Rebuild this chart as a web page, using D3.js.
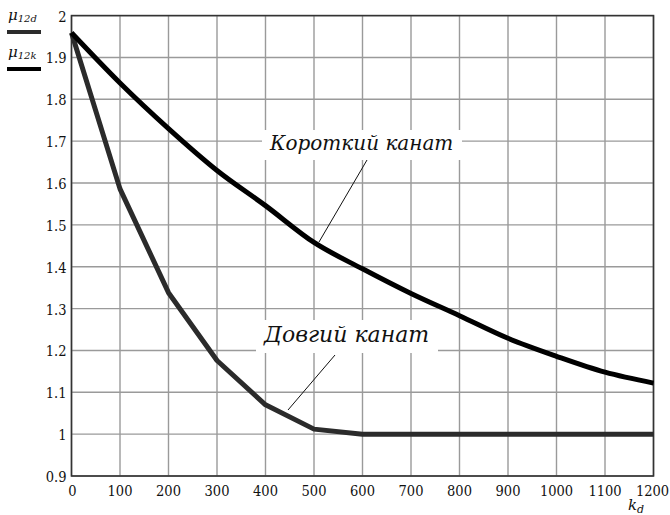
<!DOCTYPE html>
<html>
<head>
<meta charset="utf-8">
<script src="https://cdn.jsdelivr.net/npm/d3@7"></script>
<style>
  html, body { margin: 0; padding: 0; background: #fff; }
  svg { display: block; }
</style>
</head>
<body>
<svg id="chart" width="670" height="515"></svg>
<script>
// k_d values, read every 100 along the x axis
const kd = [0, 100, 200, 300, 400, 500, 600, 700, 800, 900, 1000, 1100, 1200];
// short rope, mu12k
const shortRope = [1.959, 1.839, 1.730, 1.630, 1.546, 1.458, 1.395, 1.336, 1.283, 1.229, 1.186, 1.148, 1.122];
// long rope, mu12d
const longRope = [1.959, 1.586, 1.338, 1.176, 1.070, 1.012, 1.000, 1.000, 1.000, 1.000, 1.000, 1.000, 1.000];
const xTicks = [0, 100, 200, 300, 400, 500, 600, 700, 800, 900, 1000, 1100, 1200];
const yTicks = [0.9, 1, 1.1, 1.2, 1.3, 1.4, 1.5, 1.6, 1.7, 1.8, 1.9, 2];

const svg = d3.select("#chart");
const margin = { top: 15.6, right: 16.5, bottom: 39, left: 71.5 };
const width = 670;
const height = 515;
const serif = "'DejaVu Serif', serif";
const narrow = "'DejaVu Serif Condensed', 'DejaVu Serif', serif";

const x = d3.scaleLinear().domain([0, 1200]).range([margin.left, width - margin.right]);
const y = d3.scaleLinear().domain([0.9, 2]).range([height - margin.bottom, margin.top]);

// grid
svg.append("g")
  .selectAll("line")
  .data(xTicks)
  .join("line")
  .attr("x1", (d) => x(d))
  .attr("x2", (d) => x(d))
  .attr("y1", y(0.9))
  .attr("y2", y(2))
  .attr("stroke", "#9a9a9a")
  .attr("stroke-width", 1.4);

svg.append("g")
  .selectAll("line")
  .data(yTicks)
  .join("line")
  .attr("x1", x(0))
  .attr("x2", x(1200))
  .attr("y1", (d) => y(d))
  .attr("y2", (d) => y(d))
  .attr("stroke", "#9a9a9a")
  .attr("stroke-width", 1.4);

// frame
svg.append("rect")
  .attr("x", x(0))
  .attr("y", y(2))
  .attr("width", x(1200) - x(0))
  .attr("height", y(0.9) - y(2))
  .attr("fill", "none")
  .attr("stroke", "#333")
  .attr("stroke-width", 1.6);

// tick labels
svg.append("g")
  .selectAll("text")
  .data(yTicks)
  .join("text")
  .attr("x", x(0) - 5)
  .attr("y", (d) => y(d) + 6)
  .attr("text-anchor", "end")
  .style("font-family", narrow)
  .attr("font-size", 14.5)
  .attr("fill", "#111")
  .text((d) => d3.format("")(d));

svg.append("g")
  .selectAll("text")
  .data(xTicks)
  .join("text")
  .attr("x", (d) => x(d) + (d === 0 ? 1 : d === 1200 ? -1 : 0))
  .attr("y", y(0.9) + 20)
  .attr("text-anchor", "middle")
  .style("font-family", narrow)
  .attr("font-size", 14.5)
  .attr("fill", "#111")
  .text((d) => d);

// axis name k_d
const kLabel = svg.append("text")
  .attr("x", 628)
  .attr("y", 510)
  .style("font-family", serif)
  .attr("font-size", 15)
  .attr("font-style", "italic")
  .attr("fill", "#111");
kLabel.append("tspan").text("k");
kLabel.append("tspan").attr("font-size", 11).attr("dy", 3).text("d");

// curves
const polyline = d3.line()
  .x((d, i) => x(kd[i]))
  .y((d) => y(d));
const smooth = d3.line()
  .x((d, i) => x(kd[i]))
  .y((d) => y(d))
  .curve(d3.curveMonotoneX);

svg.append("path")
  .datum(longRope)
  .attr("fill", "none")
  .attr("stroke", "#2b2b2b")
  .attr("stroke-width", 5)
  .attr("stroke-linejoin", "round")
  .attr("d", polyline);

svg.append("path")
  .datum(shortRope)
  .attr("fill", "none")
  .attr("stroke", "#000")
  .attr("stroke-width", 5)
  .attr("stroke-linejoin", "round")
  .attr("d", smooth);

// annotations
function annotate(label, size, tx, ty, box, from, to) {
  svg.append("rect")
    .attr("x", box[0]).attr("y", box[1])
    .attr("width", box[2]).attr("height", box[3])
    .attr("fill", "#fff");
  svg.append("text")
    .attr("x", tx).attr("y", ty)
    .style("font-family", serif)
    .attr("font-size", size)
    .attr("font-style", "italic")
    .attr("fill", "#111")
    .text(label);
  svg.append("line")
    .attr("x1", from[0]).attr("y1", from[1])
    .attr("x2", to[0]).attr("y2", to[1])
    .attr("stroke", "#111")
    .attr("stroke-width", 1);
}

annotate("Короткий канат", 20, 270, 150, [262, 130, 200, 30], [367, 160], [319, 242]);
annotate("Довгий канат", 22, 264, 342, [256, 320, 182, 33], [335, 355], [288, 410]);

// legend
const legend = [
  { sub: "12d", y: 20, color: "#2b2b2b" },
  { sub: "12k", y: 57, color: "#000" }
];
legend.forEach((d) => {
  const t = svg.append("text")
    .attr("x", 8)
    .attr("y", d.y)
    .style("font-family", serif)
    .attr("font-size", 15)
    .attr("font-style", "italic")
    .attr("fill", "#111");
  t.append("tspan").text("μ");
  t.append("tspan").attr("font-size", 10).attr("dy", 2).text(d.sub);
  svg.append("line")
    .attr("x1", 7).attr("x2", 41)
    .attr("y1", d.y + 12).attr("y2", d.y + 12)
    .attr("stroke", d.color)
    .attr("stroke-width", 4);
});
</script>
</body>
</html>
